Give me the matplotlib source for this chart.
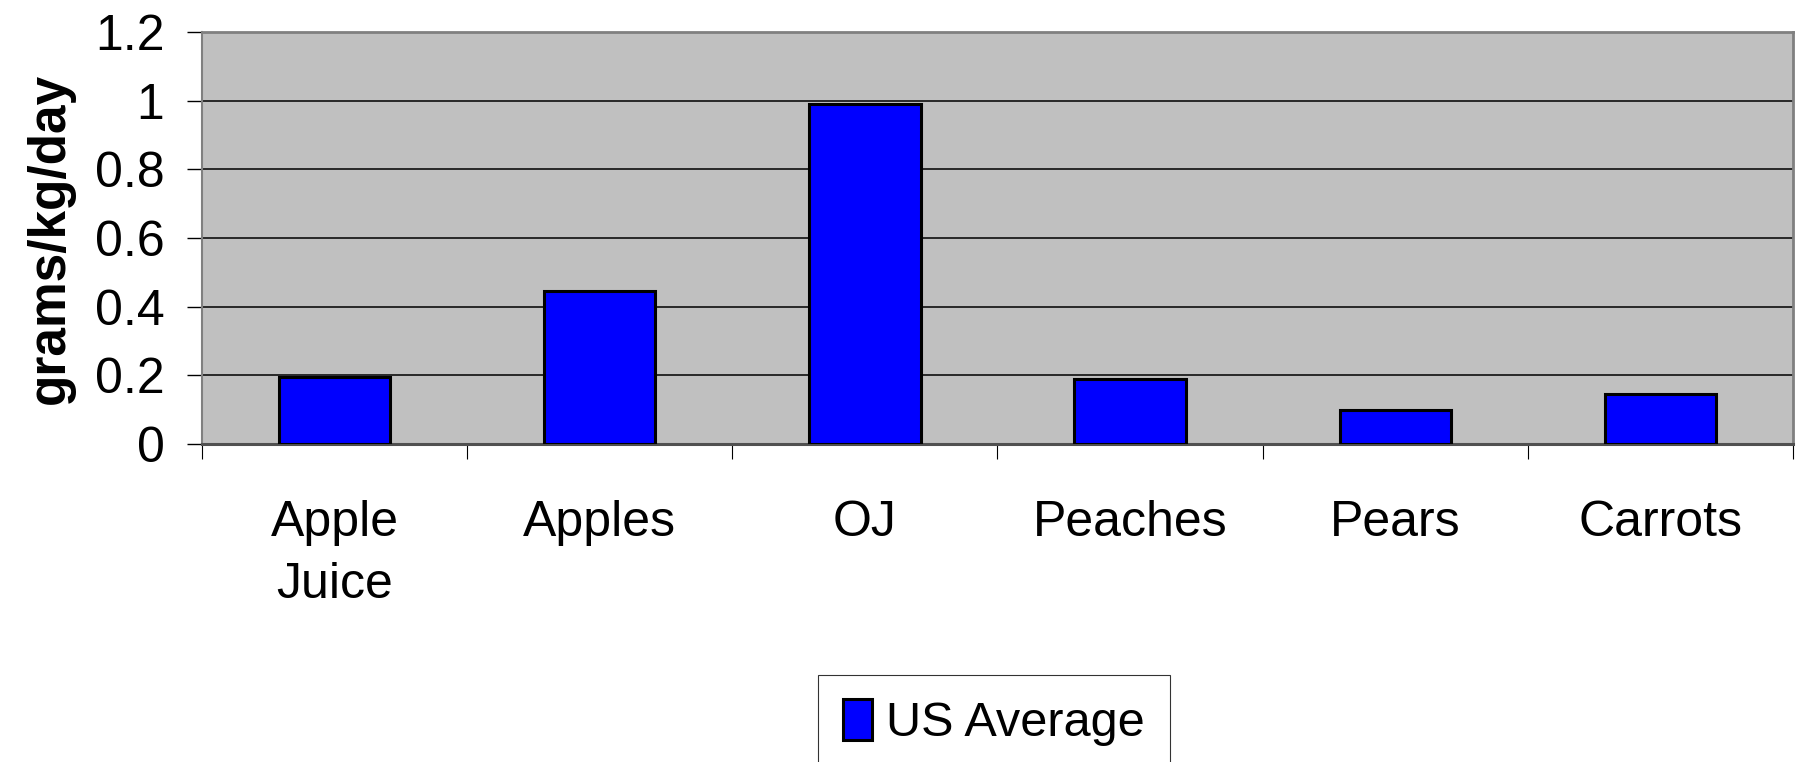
import numpy as np
import matplotlib
matplotlib.use("Agg")
import matplotlib.pyplot as plt

# values
categories = ["Apple\nJuice", "Apples", "OJ", "Peaches", "Pears", "Carrots"]
us_average = [0.195, 0.445, 0.99, 0.19, 0.10, 0.145]
yticks = [0, 0.2, 0.4, 0.6, 0.8, 1.0, 1.2]
ytick_labels = ["0", "0.2", "0.4", "0.6", "0.8", "1", "1.2"]

plt.rcParams['font.family'] = ['Liberation Sans', 'DejaVu Sans']

W, H = 1799, 762
fig = plt.figure(figsize=(W / 100, H / 100), dpi=100)
ax = fig.add_axes([202 / W, 1 - 444 / H, (1793 - 202) / W, (444 - 32) / H])
ax.set_facecolor('#C0C0C0')

x = np.arange(len(categories))
ax.bar(x, us_average, width=0.42, color='#0000FF', edgecolor='black',
       linewidth=2.2, zorder=3, label='US Average')

ax.set_xlim(-0.5, len(categories) - 0.5)
ax.set_ylim(0, 1.2)
ax.set_yticks(yticks)
ax.set_yticklabels(ytick_labels, fontsize=36)
ax.yaxis.grid(True, color='black', linewidth=1.1, zorder=1)
ax.set_axisbelow(True)

ax.set_xticks(x)
ax.set_xticklabels(categories, fontsize=36, linespacing=1.45)
ax.set_xticks(np.arange(-0.5, len(categories)), minor=True)
ax.tick_params(axis='x', which='major', length=0, pad=40)
ax.tick_params(axis='x', which='minor', length=11, width=0.8, color='black')
ax.tick_params(axis='y', length=11, width=1.0, pad=16)

ax.set_ylabel('grams/kg/day', fontsize=37, fontweight='bold', labelpad=14)

for side in ['top', 'right', 'left']:
    ax.spines[side].set_color('#808080')
    ax.spines[side].set_linewidth(2.0)
ax.spines['left'].set_linewidth(1.5)
ax.spines['bottom'].set_color('#505050')
ax.spines['bottom'].set_linewidth(2.2)

leg = fig.legend(loc='upper center', bbox_to_anchor=(994 / W, 1 - 675 / H),
                 fontsize=35, frameon=True, fancybox=False, handlelength=0.6,
                 handleheight=0.9, handletextpad=0.3, borderpad=0.5,
                 borderaxespad=0)
leg.get_frame().set_edgecolor('black')
leg.get_frame().set_linewidth(0.8)

fig.savefig('out.png', dpi=100, facecolor='white')
